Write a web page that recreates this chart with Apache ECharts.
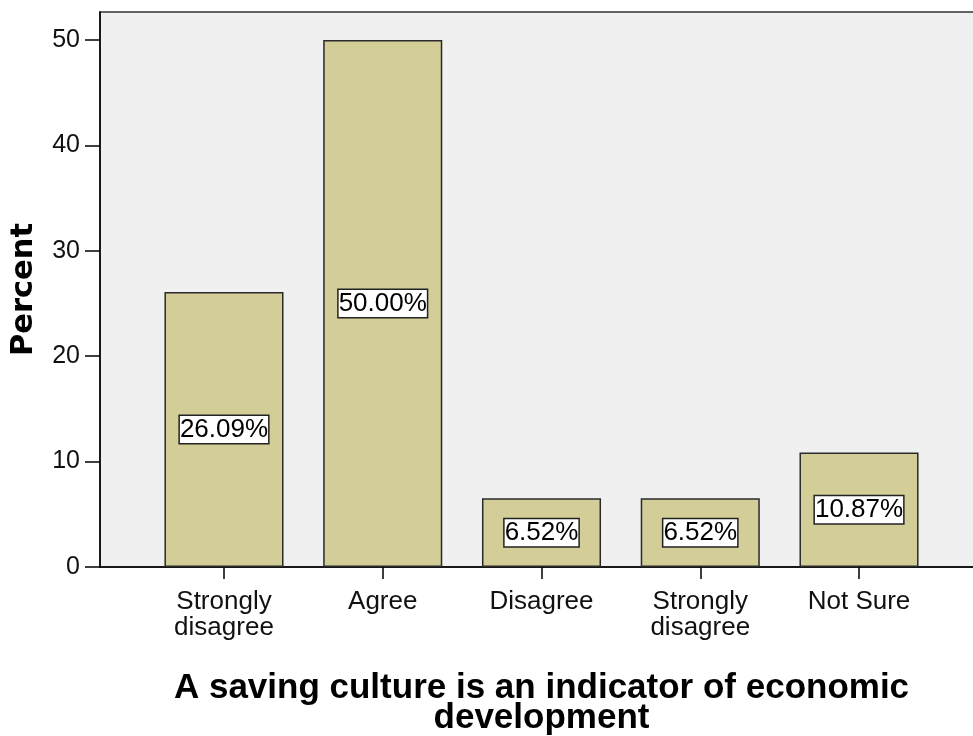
<!DOCTYPE html>
<html>
<head>
<meta charset="utf-8">
<script src="https://cdn.jsdelivr.net/npm/echarts@6/dist/echarts.min.js"></script>
<style>
html,body{margin:0;padding:0;background:#fff;}
#c{width:973px;height:736px;}
</style>
</head>
<body>
<div id="c"></div>
<script>
const categories = ['Strongly\ndisagree', 'Agree', 'Disagree', 'Strongly\ndisagree', 'Not Sure'];
const percentValues = [26.09, 50.00, 6.52, 6.52, 10.87];
const yTickValues = [0, 10, 20, 30, 40, 50];
const yMax = 52.66;
const yAxisTitle = 'Percent';
const xAxisTitle = 'A saving culture is an indicator of economic\ndevelopment';

const FONT = '"Liberation Sans", Arial, sans-serif';
const BOLDFONT = '"DejaVu Sans", "Liberation Sans", sans-serif';
const chart = echarts.init(document.getElementById('c'), null, {renderer: 'canvas'});

chart.setOption({
  animation: false,
  backgroundColor: '#ffffff',
  grid: [
    {left: 100, top: 12, right: -5, bottom: 169, show: true, backgroundColor: '#f0f0f0',
     borderColor: '#333', borderWidth: 1.5, containLabel: false, outerBoundsMode: 'none'},
    {left: 144.6, top: 12, right: 34.6, bottom: 169, containLabel: false, outerBoundsMode: 'none'}
  ],
  xAxis: [
    {gridIndex: 0, type: 'value', min: 0, max: 1,
     axisLine: {show: true, lineStyle: {color: '#000', width: 1.5}},
     axisTick: {show: false}, axisLabel: {show: false}, splitLine: {show: false}},
    {gridIndex: 1, type: 'category', data: categories, boundaryGap: true,
     axisLine: {show: false},
     axisTick: {show: true, alignWithLabel: true, length: 12, lineStyle: {color: '#000', width: 1.5}},
     axisLabel: {fontFamily: FONT, fontSize: 26, lineHeight: 26, color: '#111', margin: 22, interval: 0},
     name: xAxisTitle, nameLocation: 'middle', nameGap: 106,
     nameTextStyle: {fontFamily: FONT, fontSize: 35, fontWeight: 'bold', color: '#000', lineHeight: 30}}
  ],
  yAxis: [
    {gridIndex: 0, type: 'value', min: 0, max: yMax,
     axisLine: {show: true, lineStyle: {color: '#000', width: 1.5}},
     axisTick: {show: true, inside: false, length: 15, customValues: yTickValues, lineStyle: {color: '#000', width: 1.5}},
     axisLabel: {show: true, customValues: yTickValues, fontFamily: FONT, fontSize: 25, color: '#111', margin: 20},
     splitLine: {show: false},
     name: yAxisTitle, nameLocation: 'middle', nameGap: 60, nameRotate: 90,
     nameTextStyle: {fontFamily: BOLDFONT, fontSize: 30.5, fontWeight: 'bold', color: '#000'}},
    {gridIndex: 1, type: 'value', min: 0, max: yMax, show: false}
  ],
  series: [{
    type: 'bar', xAxisIndex: 1, yAxisIndex: 1,
    data: percentValues, barWidth: '75%',
    itemStyle: {color: '#d3cd97', borderColor: '#2a2a2a', borderWidth: 1.5},
    label: {show: true, position: 'inside',
      formatter: p => p.value.toFixed(2) + '%',
      fontFamily: FONT, fontSize: 26, color: '#000',
      backgroundColor: '#ffffff', borderColor: '#222', borderWidth: 1.5,
      padding: [1, 0, 0, 0]}
  }]
});
</script>
</body>
</html>
